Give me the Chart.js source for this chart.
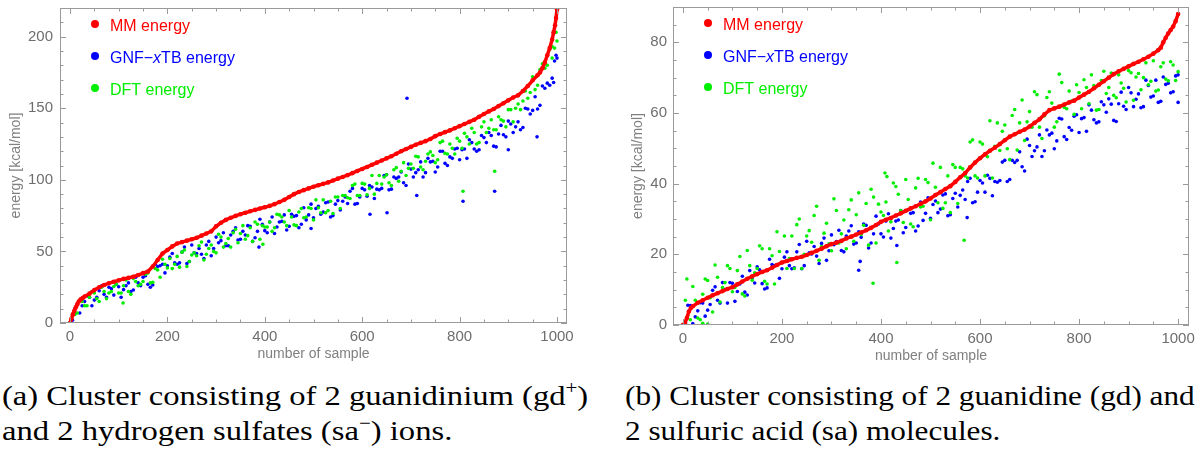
<!DOCTYPE html>
<html>
<head>
<meta charset="utf-8">
<script src="https://cdn.jsdelivr.net/npm/chart.js@4"></script>
<style>
  body { margin: 0; background: #fff; width: 1196px; height: 450px; overflow: hidden; position: relative; }
  .box { position: absolute; }
  .cap { position: absolute; font-family: "Liberation Serif", serif; font-size: 28px; line-height: 35px; color: #000; white-space: nowrap; transform-origin: 0 0; }
  .cap sup { font-size: 18px; line-height: 0; vertical-align: 11px; }
</style>
</head>
<body>

<div class="box" style="left:0;top:0;width:590px;height:365px"><canvas id="chartA"></canvas></div>
<div class="box" style="left:600px;top:0;width:596px;height:367px"><canvas id="chartB"></canvas></div>

<div class="cap" style="left:2px;top:378px;transform:scaleX(1.165)">(a) Cluster consisting of 2 guanidinium (gd<sup>+</sup>)<br>and 2 hydrogen sulfates (sa<sup>&minus;</sup>) ions.</div>
<div class="cap" style="left:625px;top:378px;transform:scaleX(1.115)">(b) Cluster consisting of 2 guanidine (gd) and<br>2 sulfuric acid (sa) molecules.</div>

<script>
/* サンプル番号 (2 系列ずつ読み取り) */
const sampleX = [5,15,25,35,45,55,65,75,85,95,105,115,125,135,145,155,165,175,185,195,
  205,215,225,235,245,255,265,275,285,295,305,315,325,335,345,355,365,375,385,395,
  405,415,425,435,445,455,465,475,485,495,505,515,525,535,545,555,565,575,585,595,
  605,615,625,635,645,655,665,675,685,695,705,715,725,735,745,755,765,775,785,795,
  805,815,825,835,845,855,865,875,885,895,905,915,925,935,945,955,965,975,985,995];
const sampleX2 = [10,20,30,40,50,60,70,80,90,100,110,120,130,140,150,160,170,180,190,200,
  210,220,230,240,250,260,270,280,290,300,310,320,330,340,350,360,370,380,390,400,
  410,420,430,440,450,460,470,480,490,500,510,520,530,540,550,560,570,580,590,600,
  610,620,630,640,650,660,670,680,690,700,710,720,730,740,750,760,770,780,790,800,
  810,820,830,840,850,860,870,880,890,900,910,920,930,940,950,960,970,980,990,1000];

const xTicks = [0, 200, 400, 600, 800, 1000];
const yTicksA = [0, 50, 100, 150, 200];
const yTicksB = [0, 20, 40, 60, 80];

const labels = ["MM energy", "GNF\u2212xTB energy", "DFT energy"];
const legendParts = [
  [["MM energy", false]],
  [["GNF\u2212", false], ["x", true], ["TB energy", false]],
  [["DFT energy", false]]
];
const colors = ["#ff0000", "#0000ff", "#00ee00"];

/* (a) gd+ / sa- */
const mmXA = [0,3,6,9,12,15,18,22,26,30,40,50,60,70,80,90,100,110,120,130,140,150,160,170,180,190,
  200,210,220,230,240,250,260,270,280,290,300,310,320,330,340,350,360,370,380,390,
  400,410,420,430,440,450,460,470,480,490,500,510,520,530,540,550,560,570,580,590,
  600,610,620,630,640,650,660,670,680,690,700,710,720,730,740,750,760,770,780,790,
  800,810,820,830,840,850,860,870,880,890,900,910,920,930,940,950,960,
  965,970,975,980,985,990,993,996,998,1000];
const mmYA = [0,3,6,8.5,11,13,15,16.5,17.5,18.5,20.5,23,25,26.5,27.8,28.8,29.8,30.8,31.5,32.3,33.5,34.8,36,39.5,44,48.5,
  51,53.5,55.5,56.5,57.5,58.5,59.5,61,62.5,64,67.5,70,72,73.5,74.8,76,77,78,79,80,
  80.8,81.8,83,84.5,86,88,90,91.5,92.8,94,95.2,96.2,97.2,98.2,99.5,100.8,102,103.3,104.7,106.2,
  107.6,109,110.5,112,113.5,115,116.5,118.2,120,121.5,123,124.5,125.8,127,128.5,130.5,132,133.3,134.5,136,
  137.5,139,140.5,142,144,146,147.8,149.5,151.5,153.5,155.5,157.5,159,162,165.5,169.5,173,
  175,178,182,187,192,198,203,208,213,219];

const gnfA = [2,13,12,19,12,18,26,18,24,27, 18,26,22,32,26,33,25,41,40,35,
  46,42,42,53,43,49,52,45,57,52, 56,63,54,64,58,64,68,57,64,69,
  63,74,67,71,65,76,75,69,72,83, 80,76,84,74,83,79,88,92,83,88,
  93,96,87,93,103,93,102,102,98,111, 102,107,102,115,113,109,120,110,115,122,
  121,115,126,120,131,126,131,123,138,130, 139,137,135,150,146,158,152,164,166,183];
const gnfA2 = [10,7,15,18,16,22.5,20,25,19.5,25.3, 23.3,28,23,28,32,27,26.5,39.5,41,40,
  48.5,41,49.5,41.5,54.5,48.5,48,54.5,47,60, 57.5,54,61.5,66.5,58.5,61.5,67.5,59.5,72.5,64.5,
  70.5,62.5,70.5,75.5,67.5,74.5,66.5,80.5,75.5,73.5, 81.5,77.5,84.5,75,85.5,85,83.5,94,83.5,94,
  88.5,95,93.5,94,103.5,93.5,101,105.5,96,107.5, 105,112.5,105,112.5,105.5,120,111.5,116,121.5,114,
  121.5,128,121.5,121,129.5,133,123.5,132,131.5,141, 133,140.5,136.5,149.5,148.5,149.5,165.5,167.5,171,185];
const gnfOutXA = [388,495,616,651,692,712,807,872,900,959,993,998];
const gnfOutYA = [53,66,76,77,157,89,85,92,121,130,168,187];

const dftA = [6,7,15,12,22,17,25,17,22,27, 21,30,20,29,27,34,28,38,32,41,
  45,41,39,51,43,49,54,44,52,50, 62,53,59,63,56,68,61,57,69,68,
  67,64,76,74,68,74,68,80,74,80, 86,77,77,85,88,80,89,87,97,89,
  97,94,90,103,102,98,107,99,112,108, 108,116,107,118,117,114,127,118,122,129,
  122,130,136,125,137,133,142,135,142,137, 149,150,149,162,161,163,177,178,191,192];
const dftA2 = [6,16,12,18,21,15,22,21,25.5,21, 26,22,31,26,29,35,28.5,37,44.5,38.5,
  38,46.5,49.5,39.5,47.5,47,56.5,48,54.5,49, 60,55.5,53,65.5,62.5,58.5,66.5,70.5,58.5,67,
  70.5,66.5,75.5,70.5,78.5,68.5,77.5,73.5,80.5,72, 80.5,86,78.5,76.5,88,89,87.5,96,89,97.5,
  89.5,103,97.5,97,103.5,96,108.5,106,103,111, 116.5,109,113,119.5,112,126,118.5,125,118,127,
  132.5,125,133,126,140.5,136,135,144,141,149, 140.5,153,155,157,172,166,181,180,193,197];
const dftOutXA = [109,396,807,872,990,998];
const dftOutYA = [14,55,92,106,185,203];

/* (b) gd / sa */
const mmXB = [0,4,8,12,16,20,30,40,50,60,70,80,90,100,110,120,130,140,150,160,170,180,190,
  200,210,220,230,240,250,260,270,280,290,300,310,320,330,340,350,360,370,380,390,
  400,410,420,430,440,450,460,470,480,490,500,510,520,530,540,550,560,570,580,590,
  600,610,620,630,640,650,660,670,680,690,700,710,720,730,740,750,760,770,780,790,
  800,810,820,830,840,850,860,870,880,890,900,910,920,930,940,950,960,
  965,970,975,980,985,990,995,1000];
const mmYB = [0,0.5,2,3.8,4.8,5.3,6.3,7,7.7,8.4,9,9.6,10.2,10.7,11.5,12.3,13.1,13.8,14.4,15,15.5,16.2,17,
  17.7,18.1,18.6,19,19.3,19.8,20.4,21,21.6,22.3,22.9,23.3,23.8,24.5,25,25.6,26.2,26.8,27.5,28.3,
  29.2,29.8,30.3,31,31.6,32.3,33,33.6,34.3,35,35.8,36.8,37.6,38.5,39.3,40.5,41.8,43,44.6,46,
  47.2,48.3,49.3,50.2,51.2,52.3,53.3,54,54.7,55.3,56.2,57.2,58.2,59.6,60.8,61.3,61.8,62.4,63,63.5,
  64.4,65.2,66,67,68,69,70,71,71.8,72.5,73.2,73.9,74.5,75.2,75.9,76.8,77.8,
  78.5,80,81.3,82.5,83.5,84.5,86,88];

const gnfB = [0.8,5.5,2.3,6.3,2.5,5.8,10.8,6.2,10,12, 6.7,11.6,9.3,15.4,11.9,15.6,10.2,18.6,16.8,13.2,
  19.2,16.8,16.2,22.8,16.8,20.4,22.2,17.4,24.6,21, 22.7,26.8,20.7,26.6,22.9,26.4,28.6,21.8,25.8,28.6,
  24.9,31.5,27.3,29.7,26.1,32.6,31.8,28,29.6,36, 34.1,31.8,36.8,30.9,35.8,33.4,38.2,40.6,34.6,37.6,
  40.2,42.4,36.6,40.4,46.1,40.6,46.6,46.6,44.8,52.6, 47.7,50.4,47.7,55.2,54.3,52.1,58.3,52.5,55.1,59.5,
  58.4,54.8,60.8,57.2,63.2,60.2,62.5,57.6,65.9,61, 65.7,63.9,61.5,69.3,64.5,69.3,63.3,68.1,65.7,70.5];
const gnfB2 = [5.6,0.4,4,6.2,4.2,9.8,7,12,6.2,11.8, 9.5,13.8,8.5,13.4,16.5,11.7,10.5,17.1,17.1,15.9,
  20.7,15.9,20.7,15.9,23.7,20.1,19.5,23.1,18.3,25.5, 23.6,21.1,25.2,28.1,23.2,24.8,28.2,23.2,30.8,25.8,
  29.4,24.6,29.4,32.4,27.6,31.6,26.6,34.8,31.6,30.2, 35.1,32.8,37.1,31.2,37.3,36.7,35.5,41.5,34.9,40.9,
  37.6,41.5,40.6,40.9,46.6,41.2,46,49,43.6,50.8, 49.3,53.8,49.3,53.8,49.9,58.5,53.3,55.9,59.1,54.5,
  58.7,62.3,58.1,57.5,62.3,64,57.9,62.6,61.9,67.2, 61.8,65.4,61.8,67.8,64.8,63,70.2,68.4,66,70.8];
const gnfOutXB = [355,358,432,574,1000];
const gnfOutYB = [15.5,18,22.5,30.4,63];

const dftB = [7,1.5,7,1.5,13,7.7,17,6.5,12,16, 10.6,19.4,8.2,16.8,14.8,22.4,12.4,21.6,11.6,20.8,
  25.2,18.8,16,30,20,26.7,31,18.3,26,23, 35.7,23.2,29.7,32.6,23.7,37.4,28.2,22.6,36.2,34.2,
  31,26.6,40.2,37,29,35.5,27.8,41.5,33.6,40.3, 45.8,34.6,33,42.2,45.4,34.4,44.2,41.6,52.4,41.6,
  51.2,47.6,41.6,57.2,54.8,49.9,59.3,49.5,63.7,57.5, 56,65.2,52.8,64.4,62.8,57.5,68.6,61.2,63.4,68,
  61.2,67.2,70.8,60.8,69.2,65.5,71.3,64.3,68.5,63.1, 71.4,70.2,66.6,74.2,69,66.2,73.1,69.6,74.5,69.2];
const dftB2 = [2.7,10.9,2,8.7,12.6,3.7,13.5,10.6,16.8,9.4, 15.4,8.8,21.1,12.7,16,21.6,11.6,19.6,26.4,17.6,
  16,25.2,28.4,16,25.2,23.4,33.6,22.2,28.8,21, 32.4,25.8,21.6,35.4,31.2,25.6,34.4,38.4,23.2,32,
  34.8,29.2,39.2,32.4,41.2,28.6,38.8,33.4,41.2,29.8, 39,44.6,34.6,31.8,44.6,44.6,42.2,51.8,42.2,51.8,
  42.2,57.8,50.6,49.4,56.6,46.8,61,57.2,52.2,60.4, 66,56,59.2,66,56,71,61.6,66.2,59.6,65.8,
  69.4,62.6,67.8,61,71.8,67.2,65,70.8,67,72, 63.6,71.2,70,68,74.8,66.5,74.2,69.1,73.6,71.7];
const dftOutXB = [8,40,50,384,408,412,432,568];
const dftOutYB = [13,0.5,0.3,11.8,43,42,17.7,24];


/* x,y の組にする */
function pts(xs, ys) {
  return xs.map((x, i) => ({ x: x, y: ys[i] }));
}


/* 枠と内向きの目盛り */
const frame = {
  id: "frame",
  afterDraw(chart, args, o) {
    const ctx = chart.ctx;
    const a = chart.chartArea;
    const sx = chart.scales.x;
    const sy = chart.scales.y;

    ctx.save();
    ctx.strokeStyle = "#9a9a9a";
    ctx.lineWidth = 1;
    ctx.strokeRect(a.left + 0.5, a.top + 0.5, a.right - a.left - 1, a.bottom - a.top - 1);

    ctx.beginPath();
    for (let v = 0; v <= sx.max; v += o.xMinor) {
      const len = v % o.xMajor === 0 ? 6 : 3.5;
      const p = Math.round(sx.getPixelForValue(v)) + 0.5;
      ctx.moveTo(p, a.bottom); ctx.lineTo(p, a.bottom - len);
      ctx.moveTo(p, a.top); ctx.lineTo(p, a.top + len);
    }
    for (let v = 0; v <= sy.max; v += o.yMinor) {
      const len = v % o.yMajor === 0 ? 6 : 3.5;
      const p = Math.round(sy.getPixelForValue(v)) + 0.5;
      ctx.moveTo(a.left, p); ctx.lineTo(a.left + len, p);
      ctx.moveTo(a.right, p); ctx.lineTo(a.right - len, p);
    }
    ctx.stroke();
    ctx.restore();
  }
};


/* 枠内の凡例 */
const innerLegend = {
  id: "innerLegend",
  afterDraw(chart) {
    const ctx = chart.ctx;
    const a = chart.chartArea;

    ctx.save();
    ctx.textBaseline = "middle";

    legendParts.forEach((parts, i) => {
      const y = a.top + 16 + i * 32;
      ctx.fillStyle = colors[i];
      ctx.beginPath();
      ctx.arc(a.left + 35, y, 4, 0, Math.PI * 2);
      ctx.fill();

      let x = a.left + 50;
      parts.forEach(([t, it]) => {
        ctx.font = (it ? "italic " : "") + "16px 'Liberation Sans', Arial, sans-serif";
        ctx.fillText(t, x, y + 3);
        x += ctx.measureText(t).width;
      });
    });

    ctx.restore();
  }
};


/* グラフ */
function drawChart(id, o) {

  const datasets = [
    {
      label: labels[0],
      data: pts(o.mmX, o.mmY),
      backgroundColor: colors[0],
      borderColor: colors[0],
      borderWidth: 3.5,
      showLine: true,
      pointRadius: 2.3,
      pointBorderWidth: 0,
      order: 0
    },
    {
      label: labels[1],
      data: pts(sampleX, o.gnf).concat(pts(sampleX2, o.gnf2), pts(o.gnfOutX, o.gnfOutY)),
      backgroundColor: colors[1],
      pointRadius: 1.8,
      pointBorderWidth: 0,
      order: 2
    },
    {
      label: labels[2],
      data: pts(sampleX, o.dft).concat(pts(sampleX2, o.dft2), pts(o.dftOutX, o.dftOutY)),
      backgroundColor: colors[2],
      pointRadius: 1.8,
      pointBorderWidth: 0,
      order: 1
    }
  ];

  const tickFont = { family: "'Liberation Sans', Arial, sans-serif", size: 15 };
  const titleFont = { family: "'Liberation Sans', Arial, sans-serif", size: 14 };

  new Chart(document.getElementById(id), {
    type: "scatter",
    data: { datasets },
    options: {
      responsive: true,
      maintainAspectRatio: false,
      animation: false,
      events: [],
      layout: { padding: o.pad },
      plugins: {
        legend: { display: false },
        tooltip: { enabled: false },
        frame: o.ticks
      },
      scales: {
        x: {
          type: "linear",
          min: o.xMin,
          max: o.xMax,
          grid: { display: false, drawTicks: false },
          border: { display: false },
          ticks: { color: "#6e6e6e", font: tickFont, padding: 5, maxRotation: 0, callback: v => String(v) },
          afterBuildTicks: s => { s.ticks = xTicks.map(v => ({ value: v })); },
          afterFit: s => { s.height = 42; s.paddingLeft = 0; s.paddingRight = 0; },
          title: {
            display: true,
            text: "number of sample",
            color: "#808080",
            font: titleFont,
            padding: { top: 0, bottom: 2 }
          }
        },
        y: {
          type: "linear",
          min: 0,
          max: o.yMax,
          grid: { display: false, drawTicks: false },
          border: { display: false },
          ticks: { color: "#6e6e6e", font: tickFont, padding: o.yPad, callback: v => String(v) },
          afterBuildTicks: s => { s.ticks = o.yTicks.map(v => ({ value: v })); },
          afterFit: s => { s.width = o.yWidth; s.paddingTop = 0; s.paddingBottom = 0; },
          title: {
            display: true,
            text: "energy [kcal/mol]",
            color: "#808080",
            font: titleFont,
            padding: { top: o.yTitlePad, bottom: 0 }
          }
        }
      }
    },
    plugins: [frame, innerLegend]
  });
}


document.addEventListener("DOMContentLoaded", () => {

  drawChart("chartA", {
    mmX: mmXA, mmY: mmYA,
    gnf: gnfA, gnf2: gnfA2, gnfOutX: gnfOutXA, gnfOutY: gnfOutYA,
    dft: dftA, dft2: dftA2, dftOutX: dftOutXA, dftOutY: dftOutYA,
    xMin: -20.5, xMax: 1020.5, yMax: 220,
    yTicks: yTicksA,
    pad: { left: 0, right: 23, top: 8, bottom: 0 },
    yWidth: 60, yPad: 7, yTitlePad: 7.5,
    ticks: { xMajor: 200, xMinor: 50, yMajor: 50, yMinor: 10 }
  });

  drawChart("chartB", {
    mmX: mmXB, mmY: mmYB,
    gnf: gnfB, gnf2: gnfB2, gnfOutX: gnfOutXB, gnfOutY: gnfOutYB,
    dft: dftB, dft2: dftB2, dftOutX: dftOutXB, dftOutY: dftOutYB,
    xMin: -20, xMax: 1022, yMax: 90,
    yTicks: yTicksB,
    pad: { left: 0, right: 7, top: 7, bottom: 0 },
    yWidth: 73, yPad: 6, yTitlePad: 29.5,
    ticks: { xMajor: 200, xMinor: 50, yMajor: 20, yMinor: 5 }
  });

});
</script>
</body>
</html>
